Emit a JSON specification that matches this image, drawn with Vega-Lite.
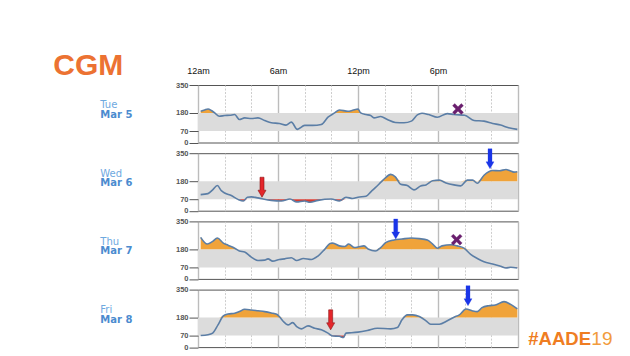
{
  "$schema": "https://vega.github.io/schema/vega-lite/v6.json",
  "padding": {"left": 52, "top": 50, "right": 0, "bottom": 0},
  "background": "white",
  "bounds": "flush",
  "spacing": {"row": 10.2},
  "data": {"values": [
    {"day":"Tue","kind":"day","name":"Tue","date":"Mar 5"},
    {"day":"Wed","kind":"day","name":"Wed","date":"Mar 6"},
    {"day":"Thu","kind":"day","name":"Thu","date":"Mar 7"},
    {"day":"Fri","kind":"day","name":"Fri","date":"Mar 8"},
    {"day":"Tue","kind":"title","text":"CGM"},
    {"day":"Fri","kind":"brand","text":"#AADE","text2":"19"},
    {"day":"Wed","kind":"event","event":"low","hour":4.8,"value":82},
    {"day":"Fri","kind":"event","event":"low","hour":9.95,"value":105},
    {"day":"Wed","kind":"event","event":"high","hour":21.9,"value":255},
    {"day":"Thu","kind":"event","event":"high","hour":14.83,"value":243},
    {"day":"Fri","kind":"event","event":"high","hour":20.25,"value":252},
    {"day":"Tue","kind":"event","event":"missed","hour":19.5,"value":204},
    {"day":"Thu","kind":"event","event":"missed","hour":19.4,"value":239},
    {"day":"Tue","kind":"cgm","hour":0.2,"value":190},{"day":"Tue","kind":"cgm","hour":0.5,"value":198},{"day":"Tue","kind":"cgm","hour":0.75,"value":204},{"day":"Tue","kind":"cgm","hour":1.0,"value":195},{"day":"Tue","kind":"cgm","hour":1.25,"value":180},{"day":"Tue","kind":"cgm","hour":1.6,"value":160},{"day":"Tue","kind":"cgm","hour":2.0,"value":164},{"day":"Tue","kind":"cgm","hour":2.4,"value":166},{"day":"Tue","kind":"cgm","hour":2.75,"value":170},{"day":"Tue","kind":"cgm","hour":3.1,"value":140},{"day":"Tue","kind":"cgm","hour":3.5,"value":150},{"day":"Tue","kind":"cgm","hour":4.0,"value":146},{"day":"Tue","kind":"cgm","hour":4.5,"value":150},{"day":"Tue","kind":"cgm","hour":5.0,"value":134},{"day":"Tue","kind":"cgm","hour":5.5,"value":120},{"day":"Tue","kind":"cgm","hour":6.1,"value":116},{"day":"Tue","kind":"cgm","hour":6.6,"value":106},{"day":"Tue","kind":"cgm","hour":7.0,"value":124},{"day":"Tue","kind":"cgm","hour":7.45,"value":80},{"day":"Tue","kind":"cgm","hour":8.0,"value":104},{"day":"Tue","kind":"cgm","hour":8.6,"value":104},{"day":"Tue","kind":"cgm","hour":9.25,"value":110},{"day":"Tue","kind":"cgm","hour":9.75,"value":154},{"day":"Tue","kind":"cgm","hour":10.25,"value":180},{"day":"Tue","kind":"cgm","hour":10.6,"value":198},{"day":"Tue","kind":"cgm","hour":11.25,"value":190},{"day":"Tue","kind":"cgm","hour":11.6,"value":196},{"day":"Tue","kind":"cgm","hour":12.0,"value":204},{"day":"Tue","kind":"cgm","hour":12.2,"value":180},{"day":"Tue","kind":"cgm","hour":12.6,"value":170},{"day":"Tue","kind":"cgm","hour":12.95,"value":164},{"day":"Tue","kind":"cgm","hour":13.2,"value":150},{"day":"Tue","kind":"cgm","hour":13.7,"value":158},{"day":"Tue","kind":"cgm","hour":14.2,"value":140},{"day":"Tue","kind":"cgm","hour":14.8,"value":122},{"day":"Tue","kind":"cgm","hour":15.45,"value":120},{"day":"Tue","kind":"cgm","hour":16.0,"value":130},{"day":"Tue","kind":"cgm","hour":16.45,"value":168},{"day":"Tue","kind":"cgm","hour":16.8,"value":178},{"day":"Tue","kind":"cgm","hour":17.3,"value":170},{"day":"Tue","kind":"cgm","hour":17.95,"value":154},{"day":"Tue","kind":"cgm","hour":18.7,"value":176},{"day":"Tue","kind":"cgm","hour":19.2,"value":170},{"day":"Tue","kind":"cgm","hour":20.0,"value":166},{"day":"Tue","kind":"cgm","hour":20.7,"value":134},{"day":"Tue","kind":"cgm","hour":21.45,"value":130},{"day":"Tue","kind":"cgm","hour":22.1,"value":116},{"day":"Tue","kind":"cgm","hour":22.7,"value":106},{"day":"Tue","kind":"cgm","hour":23.3,"value":90},{"day":"Tue","kind":"cgm","hour":23.95,"value":80},
    {"day":"Wed","kind":"cgm","hour":0.2,"value":98},{"day":"Wed","kind":"cgm","hour":0.75,"value":104},{"day":"Wed","kind":"cgm","hour":1.1,"value":127},{"day":"Wed","kind":"cgm","hour":1.45,"value":153},{"day":"Wed","kind":"cgm","hour":1.75,"value":122},{"day":"Wed","kind":"cgm","hour":2.0,"value":108},{"day":"Wed","kind":"cgm","hour":2.5,"value":92},{"day":"Wed","kind":"cgm","hour":3.0,"value":69},{"day":"Wed","kind":"cgm","hour":3.4,"value":59},{"day":"Wed","kind":"cgm","hour":3.7,"value":82},{"day":"Wed","kind":"cgm","hour":4.0,"value":84},{"day":"Wed","kind":"cgm","hour":4.5,"value":78},{"day":"Wed","kind":"cgm","hour":4.8,"value":73},{"day":"Wed","kind":"cgm","hour":5.5,"value":63},{"day":"Wed","kind":"cgm","hour":6.25,"value":59},{"day":"Wed","kind":"cgm","hour":6.9,"value":71},{"day":"Wed","kind":"cgm","hour":7.4,"value":53},{"day":"Wed","kind":"cgm","hour":8.0,"value":59},{"day":"Wed","kind":"cgm","hour":8.4,"value":51},{"day":"Wed","kind":"cgm","hour":9.0,"value":63},{"day":"Wed","kind":"cgm","hour":10.0,"value":71},{"day":"Wed","kind":"cgm","hour":10.6,"value":59},{"day":"Wed","kind":"cgm","hour":11.1,"value":82},{"day":"Wed","kind":"cgm","hour":11.6,"value":74},{"day":"Wed","kind":"cgm","hour":12.0,"value":82},{"day":"Wed","kind":"cgm","hour":12.6,"value":88},{"day":"Wed","kind":"cgm","hour":13.0,"value":118},{"day":"Wed","kind":"cgm","hour":13.3,"value":140},{"day":"Wed","kind":"cgm","hour":13.7,"value":172},{"day":"Wed","kind":"cgm","hour":14.0,"value":196},{"day":"Wed","kind":"cgm","hour":14.45,"value":221},{"day":"Wed","kind":"cgm","hour":14.8,"value":206},{"day":"Wed","kind":"cgm","hour":15.2,"value":161},{"day":"Wed","kind":"cgm","hour":15.7,"value":153},{"day":"Wed","kind":"cgm","hour":16.2,"value":127},{"day":"Wed","kind":"cgm","hour":16.7,"value":151},{"day":"Wed","kind":"cgm","hour":17.1,"value":157},{"day":"Wed","kind":"cgm","hour":17.6,"value":182},{"day":"Wed","kind":"cgm","hour":18.1,"value":186},{"day":"Wed","kind":"cgm","hour":18.6,"value":169},{"day":"Wed","kind":"cgm","hour":19.2,"value":157},{"day":"Wed","kind":"cgm","hour":19.7,"value":151},{"day":"Wed","kind":"cgm","hour":20.2,"value":186},{"day":"Wed","kind":"cgm","hour":20.6,"value":186},{"day":"Wed","kind":"cgm","hour":20.95,"value":167},{"day":"Wed","kind":"cgm","hour":21.45,"value":216},{"day":"Wed","kind":"cgm","hour":22.1,"value":245},{"day":"Wed","kind":"cgm","hour":22.6,"value":243},{"day":"Wed","kind":"cgm","hour":23.1,"value":251},{"day":"Wed","kind":"cgm","hour":23.4,"value":243},{"day":"Wed","kind":"cgm","hour":23.7,"value":235},{"day":"Wed","kind":"cgm","hour":23.95,"value":237},
    {"day":"Thu","kind":"cgm","hour":0.2,"value":253},{"day":"Thu","kind":"cgm","hour":0.7,"value":212},{"day":"Thu","kind":"cgm","hour":1.1,"value":228},{"day":"Thu","kind":"cgm","hour":1.45,"value":249},{"day":"Thu","kind":"cgm","hour":1.9,"value":218},{"day":"Thu","kind":"cgm","hour":2.25,"value":205},{"day":"Thu","kind":"cgm","hour":2.75,"value":187},{"day":"Thu","kind":"cgm","hour":3.1,"value":170},{"day":"Thu","kind":"cgm","hour":3.5,"value":164},{"day":"Thu","kind":"cgm","hour":4.0,"value":133},{"day":"Thu","kind":"cgm","hour":4.5,"value":112},{"day":"Thu","kind":"cgm","hour":5.0,"value":114},{"day":"Thu","kind":"cgm","hour":5.25,"value":122},{"day":"Thu","kind":"cgm","hour":5.6,"value":108},{"day":"Thu","kind":"cgm","hour":6.1,"value":118},{"day":"Thu","kind":"cgm","hour":6.5,"value":122},{"day":"Thu","kind":"cgm","hour":7.0,"value":129},{"day":"Thu","kind":"cgm","hour":7.4,"value":112},{"day":"Thu","kind":"cgm","hour":7.9,"value":124},{"day":"Thu","kind":"cgm","hour":8.5,"value":118},{"day":"Thu","kind":"cgm","hour":9.0,"value":139},{"day":"Thu","kind":"cgm","hour":9.5,"value":180},{"day":"Thu","kind":"cgm","hour":9.9,"value":216},{"day":"Thu","kind":"cgm","hour":10.1,"value":218},{"day":"Thu","kind":"cgm","hour":10.6,"value":201},{"day":"Thu","kind":"cgm","hour":11.0,"value":197},{"day":"Thu","kind":"cgm","hour":11.3,"value":212},{"day":"Thu","kind":"cgm","hour":11.75,"value":191},{"day":"Thu","kind":"cgm","hour":12.0,"value":194},{"day":"Thu","kind":"cgm","hour":12.45,"value":201},{"day":"Thu","kind":"cgm","hour":12.8,"value":180},{"day":"Thu","kind":"cgm","hour":13.3,"value":170},{"day":"Thu","kind":"cgm","hour":13.7,"value":191},{"day":"Thu","kind":"cgm","hour":14.1,"value":222},{"day":"Thu","kind":"cgm","hour":14.7,"value":237},{"day":"Thu","kind":"cgm","hour":15.3,"value":243},{"day":"Thu","kind":"cgm","hour":16.0,"value":249},{"day":"Thu","kind":"cgm","hour":16.6,"value":245},{"day":"Thu","kind":"cgm","hour":17.2,"value":237},{"day":"Thu","kind":"cgm","hour":17.6,"value":212},{"day":"Thu","kind":"cgm","hour":17.95,"value":187},{"day":"Thu","kind":"cgm","hour":18.3,"value":201},{"day":"Thu","kind":"cgm","hour":19.0,"value":208},{"day":"Thu","kind":"cgm","hour":19.45,"value":201},{"day":"Thu","kind":"cgm","hour":19.95,"value":187},{"day":"Thu","kind":"cgm","hour":20.45,"value":149},{"day":"Thu","kind":"cgm","hour":20.95,"value":124},{"day":"Thu","kind":"cgm","hour":21.45,"value":104},{"day":"Thu","kind":"cgm","hour":22.1,"value":91},{"day":"Thu","kind":"cgm","hour":22.7,"value":77},{"day":"Thu","kind":"cgm","hour":23.1,"value":66},{"day":"Thu","kind":"cgm","hour":23.45,"value":71},{"day":"Thu","kind":"cgm","hour":23.95,"value":66},
    {"day":"Fri","kind":"cgm","hour":0.2,"value":71},{"day":"Fri","kind":"cgm","hour":0.75,"value":75},{"day":"Fri","kind":"cgm","hour":1.1,"value":85},{"day":"Fri","kind":"cgm","hour":1.5,"value":135},{"day":"Fri","kind":"cgm","hour":1.9,"value":190},{"day":"Fri","kind":"cgm","hour":2.25,"value":202},{"day":"Fri","kind":"cgm","hour":2.75,"value":206},{"day":"Fri","kind":"cgm","hour":3.1,"value":216},{"day":"Fri","kind":"cgm","hour":3.5,"value":230},{"day":"Fri","kind":"cgm","hour":4.0,"value":226},{"day":"Fri","kind":"cgm","hour":4.5,"value":221},{"day":"Fri","kind":"cgm","hour":5.0,"value":216},{"day":"Fri","kind":"cgm","hour":5.5,"value":208},{"day":"Fri","kind":"cgm","hour":5.9,"value":200},{"day":"Fri","kind":"cgm","hour":6.1,"value":186},{"day":"Fri","kind":"cgm","hour":6.4,"value":156},{"day":"Fri","kind":"cgm","hour":6.75,"value":135},{"day":"Fri","kind":"cgm","hour":7.1,"value":149},{"day":"Fri","kind":"cgm","hour":7.4,"value":125},{"day":"Fri","kind":"cgm","hour":7.75,"value":111},{"day":"Fri","kind":"cgm","hour":8.25,"value":129},{"day":"Fri","kind":"cgm","hour":8.75,"value":115},{"day":"Fri","kind":"cgm","hour":9.25,"value":105},{"day":"Fri","kind":"cgm","hour":9.75,"value":85},{"day":"Fri","kind":"cgm","hour":10.1,"value":68},{"day":"Fri","kind":"cgm","hour":10.6,"value":66},{"day":"Fri","kind":"cgm","hour":10.9,"value":58},{"day":"Fri","kind":"cgm","hour":11.1,"value":85},{"day":"Fri","kind":"cgm","hour":11.5,"value":87},{"day":"Fri","kind":"cgm","hour":12.0,"value":91},{"day":"Fri","kind":"cgm","hour":12.7,"value":101},{"day":"Fri","kind":"cgm","hour":13.45,"value":115},{"day":"Fri","kind":"cgm","hour":14.45,"value":111},{"day":"Fri","kind":"cgm","hour":14.95,"value":119},{"day":"Fri","kind":"cgm","hour":15.3,"value":166},{"day":"Fri","kind":"cgm","hour":15.7,"value":196},{"day":"Fri","kind":"cgm","hour":16.1,"value":196},{"day":"Fri","kind":"cgm","hour":16.6,"value":186},{"day":"Fri","kind":"cgm","hour":17.1,"value":160},{"day":"Fri","kind":"cgm","hour":17.45,"value":139},{"day":"Fri","kind":"cgm","hour":18.1,"value":139},{"day":"Fri","kind":"cgm","hour":18.7,"value":160},{"day":"Fri","kind":"cgm","hour":19.2,"value":182},{"day":"Fri","kind":"cgm","hour":19.6,"value":196},{"day":"Fri","kind":"cgm","hour":20.1,"value":232},{"day":"Fri","kind":"cgm","hour":20.6,"value":220},{"day":"Fri","kind":"cgm","hour":20.95,"value":216},{"day":"Fri","kind":"cgm","hour":21.3,"value":240},{"day":"Fri","kind":"cgm","hour":21.8,"value":252},{"day":"Fri","kind":"cgm","hour":22.3,"value":256},{"day":"Fri","kind":"cgm","hour":22.95,"value":277},{"day":"Fri","kind":"cgm","hour":23.45,"value":260},{"day":"Fri","kind":"cgm","hour":23.95,"value":232}
  ]},
  "facet": {"row": {"field": "day", "sort": ["Tue", "Wed", "Thu", "Fri"], "header": null}},
  "resolve": {"scale": {"y": "independent"}},
  "spec": {
    "width": 320,
    "height": 57.5,
    "layer": [
      {
        "transform": [{"filter": "datum.kind === 'day'"}],
        "mark": {"type": "rect", "color": "#dcdcdc"},
        "encoding": {
          "x": {"datum": 0, "type": "quantitative", "scale": {"domain": [0, 24], "nice": false}},
          "x2": {"datum": 24},
          "y": {"datum": 70, "type": "quantitative", "scale": {"domain": [0, 350], "nice": false, "zero": false}, "axis": null},
          "y2": {"datum": 180}
        }
      },
      {
        "transform": [{"filter": "datum.kind === 'cgm'"}],
        "mark": {"type": "area", "color": "#f0a33a", "interpolate": "monotone"},
        "encoding": {
          "x": {"field": "hour", "type": "quantitative", "scale": {"domain": [0, 24], "nice": false}},
          "y": {"field": "value", "type": "quantitative", "scale": {"domain": [180, 350], "range": [27.93, 0], "clamp": true, "nice": false, "zero": false}, "axis": null},
          "y2": {"datum": 180}
        }
      },
      {
        "transform": [{"filter": "datum.kind === 'cgm'"}],
        "mark": {"type": "area", "color": "#d63a2f", "interpolate": "monotone"},
        "encoding": {
          "x": {"field": "hour", "type": "quantitative", "scale": {"domain": [0, 24], "nice": false}},
          "y": {"field": "value", "type": "quantitative", "scale": {"domain": [0, 70], "range": [57.5, 46], "clamp": true, "nice": false, "zero": false}, "axis": null},
          "y2": {"datum": 70}
        }
      },
      {
        "transform": [{"filter": "datum.kind === 'cgm'"}],
        "mark": {"type": "line", "color": "#5b7ea6", "strokeWidth": 1.6, "interpolate": "monotone"},
        "encoding": {
          "x": {"field": "hour", "type": "quantitative", "scale": {"domain": [0, 24], "nice": false},
            "axis": {
              "orient": "top", "title": null,
              "values": [0, 2, 4, 6, 8, 10, 12, 14, 16, 18, 20, 22, 24],
              "tickCount": 30,
              "labelExpr": "datum.value === 0 ? '12am' : datum.value === 6 ? '6am' : datum.value === 12 ? '12pm' : datum.value === 18 ? '6pm' : ''",
              "domain": false, "ticks": false, "tickSize": 0, "labelPadding": 10,
              "labelFontSize": 9, "labelColor": "#111", "labelFont": "Liberation Sans",
              "labelFlush": false, "labelOverlap": false, "labelBound": false,
              "grid": true,
              "gridColor": {"condition": {"test": "datum.value % 6 === 0", "value": "#bcbcbc"}, "value": "#cdcdcd"},
              "gridDash": {"condition": {"test": "datum.value % 6 === 0", "value": []}, "value": [2, 1.5]},
              "gridWidth": {"condition": {"test": "datum.value % 6 === 0", "value": 1.4}, "value": 1}
            }
          },
          "y": {"field": "value", "type": "quantitative", "scale": {"domain": [0, 350], "nice": false, "zero": false},
            "axis": {
              "values": [0, 70, 180, 350], "tickCount": 10, "title": null, "grid": false, "domain": false,
              "tickSize": 9, "tickColor": "#555", "tickWidth": 1,
              "labelFontSize": 7.5, "labelFontWeight": "bold", "labelColor": "#555", "labelPadding": 1, "labelFont": "Liberation Sans"
            }
          }
        }
      },
      {
        "transform": [{"filter": "datum.event === 'low'"}],
        "mark": {"type": "point", "shape": "M-0.2,-2L0.2,-2L0.2,-0.7L0.4,-0.7L0,0L-0.4,-0.7L-0.2,-0.7Z", "filled": true, "fill": "#e4262b", "stroke": "#8a1515", "strokeWidth": 0.6, "size": 400, "opacity": 1},
        "encoding": {
          "x": {"field": "hour", "type": "quantitative", "scale": {"domain": [0, 24], "nice": false}},
          "y": {"field": "value", "type": "quantitative", "scale": {"domain": [0, 350], "nice": false, "zero": false}, "axis": null}
        }
      },
      {
        "transform": [{"filter": "datum.event === 'high'"}],
        "mark": {"type": "point", "shape": "M-0.2,-2L0.2,-2L0.2,-0.7L0.4,-0.7L0,0L-0.4,-0.7L-0.2,-0.7Z", "filled": true, "fill": "#1a35e8", "stroke": "#1a35e8", "strokeWidth": 0.3, "size": 400, "opacity": 1},
        "encoding": {
          "x": {"field": "hour", "type": "quantitative", "scale": {"domain": [0, 24], "nice": false}},
          "y": {"field": "value", "type": "quantitative", "scale": {"domain": [0, 350], "nice": false, "zero": false}, "axis": null}
        }
      },
      {
        "transform": [{"filter": "datum.event === 'missed'"}],
        "mark": {"type": "point", "shape": "M-1,-0.6L-0.6,-1L0,-0.4L0.6,-1L1,-0.6L0.4,0L1,0.6L0.6,1L0,0.4L-0.6,1L-1,0.6L-0.4,0Z", "filled": true, "fill": "#6a1f6e", "stroke": "#6a1f6e", "strokeWidth": 0.3, "size": 121, "opacity": 1},
        "encoding": {
          "x": {"field": "hour", "type": "quantitative", "scale": {"domain": [0, 24], "nice": false}},
          "y": {"field": "value", "type": "quantitative", "scale": {"domain": [0, 350], "nice": false, "zero": false}, "axis": null}
        }
      },
      {
        "transform": [{"filter": "datum.kind === 'day'"}],
        "mark": {"type": "text", "align": "left", "baseline": "alphabetic", "font": "DejaVu Sans", "fontSize": 10, "color": "#6ea9df"},
        "encoding": {
          "x": {"datum": -7.33, "type": "quantitative", "scale": {"domain": [0, 24], "nice": false}},
          "y": {"datum": 207, "type": "quantitative", "scale": {"domain": [0, 350], "nice": false, "zero": false}, "axis": null},
          "text": {"field": "name"}
        }
      },
      {
        "transform": [{"filter": "datum.kind === 'day'"}],
        "mark": {"type": "text", "align": "left", "baseline": "alphabetic", "font": "DejaVu Sans", "fontSize": 10, "fontWeight": "bold", "color": "#4b8bcf"},
        "encoding": {
          "x": {"datum": -7.33, "type": "quantitative", "scale": {"domain": [0, 24], "nice": false}},
          "y": {"datum": 149, "type": "quantitative", "scale": {"domain": [0, 350], "nice": false, "zero": false}, "axis": null},
          "text": {"field": "date"}
        }
      },
      {
        "transform": [{"filter": "datum.kind === 'title'"}],
        "mark": {"type": "text", "align": "left", "baseline": "alphabetic", "font": "Liberation Sans", "fontSize": 30, "fontWeight": "bold", "color": "#ec7232"},
        "encoding": {
          "x": {"datum": -10.85, "type": "quantitative", "scale": {"domain": [0, 24], "nice": false}},
          "y": {"datum": 410.9, "type": "quantitative", "scale": {"domain": [0, 350], "nice": false, "zero": false}, "axis": null},
          "text": {"field": "text"}
        }
      },
      {
        "transform": [{"filter": "datum.kind === 'brand'"}],
        "mark": {"type": "text", "align": "left", "baseline": "alphabetic", "font": "Liberation Sans", "fontSize": 18.5, "fontWeight": "bold", "color": "#ef7d22"},
        "encoding": {
          "x": {"datum": 24.77, "type": "quantitative", "scale": {"domain": [0, 24], "nice": false}},
          "y": {"datum": 14, "type": "quantitative", "scale": {"domain": [0, 350], "nice": false, "zero": false}, "axis": null},
          "text": {"field": "text"}
        }
      },
      {
        "transform": [{"filter": "datum.kind === 'brand'"}],
        "mark": {"type": "text", "align": "left", "baseline": "alphabetic", "font": "Liberation Sans", "fontSize": 19, "fontWeight": "normal", "color": "#f29b3c"},
        "encoding": {
          "x": {"datum": 29.5, "type": "quantitative", "scale": {"domain": [0, 24], "nice": false}},
          "y": {"datum": 14, "type": "quantitative", "scale": {"domain": [0, 350], "nice": false, "zero": false}, "axis": null},
          "text": {"field": "text2"}
        }
      }
    ],
    "resolve": {"scale": {"y": "independent"}}
  },
  "config": {"view": {"stroke": "#555", "strokeWidth": 1}, "font": "Liberation Sans"}
}
